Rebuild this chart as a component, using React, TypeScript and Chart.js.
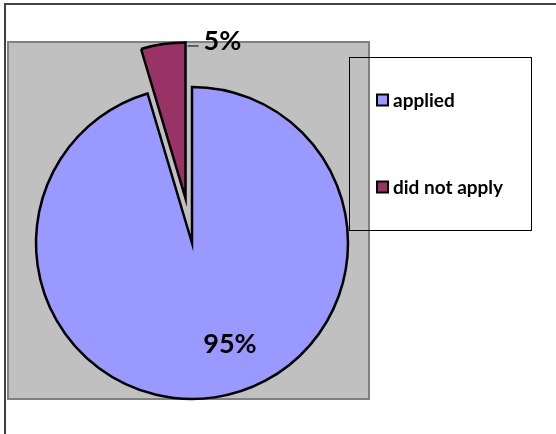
import React, { useEffect, useRef } from "react";
import { Chart, registerables } from "chart.js";

Chart.register(...registerables);

const categories = ["applied", "did not apply"];
const values = [95.4, 4.6];
const percentLabels = ["95%", "5%"];
const colors = ["#9999FF", "#993366"];
const explode = [0, 45];

const FONT = "Lato";

const decorPlugin = {
  id: "decor",
  beforeDraw(chart: any) {
    const ctx = chart.ctx;
    ctx.save();
    ctx.fillStyle = "#ffffff";
    ctx.fillRect(0, 0, chart.width, chart.height);
    // outer frame
    ctx.strokeStyle = "#404040";
    ctx.lineWidth = 2;
    ctx.beginPath();
    ctx.moveTo(5, chart.height + 5);
    ctx.lineTo(5, 4);
    ctx.lineTo(chart.width + 5, 4);
    ctx.stroke();
    // plot area
    ctx.fillStyle = "#C0C0C0";
    ctx.fillRect(8, 42, 361, 357);
    ctx.strokeStyle = "#808080";
    ctx.lineWidth = 2;
    ctx.strokeRect(8, 42, 361, 357);
    ctx.restore();
  },
  beforeDatasetsDraw(chart: any) {
    const meta = chart.getDatasetMeta(0);
    meta.data.forEach((el: any, i: number) => {
      const ex = explode[i] || 0;
      if (!ex || el.__exploded) return;
      const orig = el.draw;
      el.draw = function (ctx: CanvasRenderingContext2D, area: any) {
        const half = (this.startAngle + this.endAngle) / 2;
        ctx.save();
        ctx.translate(Math.cos(half) * ex, Math.sin(half) * ex);
        orig.call(this, ctx, area);
        ctx.restore();
      };
      el.__exploded = true;
    });
  },
  afterDraw(chart: any) {
    const ctx = chart.ctx;
    const meta = chart.getDatasetMeta(0);
    ctx.save();
    // legend box
    ctx.strokeStyle = "#000000";
    ctx.lineWidth = 1;
    ctx.strokeRect(349.5, 57.5, 182, 173);
    const rows = [100, 187];
    ctx.font = `bold 19px ${FONT}`;
    ctx.textBaseline = "middle";
    ctx.textAlign = "left";
    categories.forEach((c, i) => {
      const y = rows[i];
      ctx.fillStyle = colors[i];
      ctx.fillRect(377, y - 5.5, 11, 11);
      ctx.strokeStyle = "#000";
      ctx.lineWidth = 2;
      ctx.strokeRect(377, y - 5.5, 11, 11);
      ctx.fillStyle = "#000";
      ctx.fillText(c, 393, y + 1);
    });
    // data labels
    ctx.font = `bold 27px ${FONT}`;
    const a0 = meta.data[0] as any;
    ctx.textAlign = "center";
    ctx.fillStyle = "#000";
    ctx.fillText(percentLabels[0], a0.x + 38, a0.y + 101);
    const a1 = meta.data[1] as any;
    const half = (a1.startAngle + a1.endAngle) / 2;
    const cx = a1.x + Math.cos(half) * explode[1];
    const cy = a1.y + Math.sin(half) * explode[1];
    const ex = cx + a1.outerRadius * Math.cos(a1.endAngle);
    const ey = cy + a1.outerRadius * Math.sin(a1.endAngle);
    ctx.strokeStyle = "#000";
    ctx.lineWidth = 1;
    ctx.beginPath();
    ctx.moveTo(ex + 2, ey + 3.5);
    ctx.lineTo(ex + 13, ey + 3.5);
    ctx.stroke();
    ctx.textAlign = "left";
    ctx.fillText(percentLabels[1], ex + 18, ey - 1);
    ctx.restore();
  },
};

export default function App() {
  const ref = useRef<HTMLCanvasElement>(null);
  useEffect(() => {
    if (!ref.current) return;
    const chart = new Chart(ref.current, {
      type: "pie",
      data: {
        labels: categories,
        datasets: [
          {
            data: values,
            backgroundColor: colors,
            borderColor: "#000000",
            borderWidth: 2.5,
            borderJoinStyle: "miter",
            clip: false,
          } as any,
        ],
      },
      options: {
        responsive: false,
        animation: false,
        radius: 156,
        layout: { padding: { left: 0, right: 172, top: 52, bottom: 0 } },
        plugins: {
          legend: { display: false },
          tooltip: { enabled: false },
        },
      } as any,
      plugins: [decorPlugin],
    });
    return () => chart.destroy();
  }, []);
  return (
    <div style={{ position: "absolute", left: 0, top: 0, width: 556, height: 434 }}>
      <canvas ref={ref} width={556} height={434} />
    </div>
  );
}
